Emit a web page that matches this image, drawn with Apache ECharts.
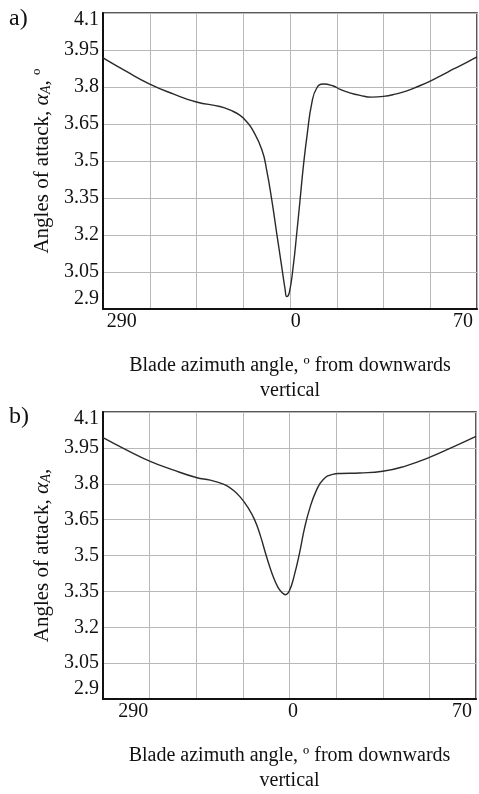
<!DOCTYPE html>
<html lang="en">
<head>
    <meta charset="utf-8">
    <script src="https://cdn.jsdelivr.net/npm/echarts@6/dist/echarts.min.js"></script>
    <style>
        html,
        body {
            margin: 0;
            width: 100%;
            height: 100%;
            background: #fff;
            overflow: hidden;
        }

        #chart {
            width: 479px;
            height: 794px;
        }
    </style>
</head>
<body>
<div id="chart"></div>
<script>
    // blade azimuth (deg, negative = before downwards vertical) and angle of attack
    var angA = [-80, -70, -60, -50, -40, -30, -25, -21.5, -19, -16, -12, -10, -7.8, -5.7, -3.6, -2.1, -1.4, -0.3,
        1.4, 2.9, 4.3, 5.7, 7.4, 9.3, 11.4, 14.2, 18.5, 21.5, 25, 30, 35, 40, 45, 50, 55, 60, 65, 70, 75, 80];
    var valA = [3.918, 3.863, 3.812, 3.772, 3.739, 3.721, 3.704, 3.686, 3.664, 3.626, 3.545, 3.464, 3.342, 3.208, 3.075, 2.980, 2.950, 2.966,
        3.075, 3.208, 3.342, 3.477, 3.612, 3.734, 3.795, 3.812, 3.804, 3.790, 3.778, 3.766, 3.759, 3.762, 3.771, 3.784, 3.803, 3.824, 3.848, 3.873, 3.897, 3.922];

    var angB = [-80, -70, -60, -50, -40, -34, -30, -27, -24, -21, -18, -15, -12.5, -10, -7.5, -5, -3, -1.7, 0,
        2, 4.3, 6.4, 8.6, 11.4, 14.3, 18.5, 22, 30, 40, 50, 60, 70, 80];
    var valB = [3.993, 3.942, 3.895, 3.858, 3.826, 3.815, 3.804, 3.792, 3.772, 3.743, 3.703, 3.650, 3.583, 3.500, 3.425, 3.368, 3.343, 3.336, 3.354,
        3.415, 3.510, 3.612, 3.694, 3.769, 3.816, 3.839, 3.843, 3.845, 3.852, 3.875, 3.910, 3.953, 3.998];

    var yTicks = [2.9, 3.05, 3.2, 3.35, 3.5, 3.65, 3.8, 3.95, 4.1];
    var xTickPosA = [-72, 2.5, 74];
    var xTickPosB = [-67, 1.5, 74];
    var xTickText = ['290', '0', '70'];

    var FONT = '"Liberation Serif", "DejaVu Serif", serif';

    function pairs(xs, ys) {
        return xs.map(function (x, i) { return [x, ys[i]]; });
    }

    function xAxisFor(idx, pos) {
        return {
            type: 'value',
            gridIndex: idx,
            min: -80,
            max: 80,
            interval: 20,
            axisLine: {onZero: false, lineStyle: {color: '#111', width: 2}},
            axisTick: {show: false},
            splitLine: {show: true, lineStyle: {color: '#b8b8b8', width: 1}},
            axisLabel: {
                customValues: pos,
                margin: 3,
                color: '#111',
                fontFamily: FONT,
                fontSize: 20,
                formatter: function (v) {
                    return xTickText[pos.indexOf(v)];
                }
            },
            name: 'Blade azimuth angle, º from downwards\nvertical',
            nameLocation: 'middle',
            nameGap: 44,
            nameTextStyle: {color: '#111', fontFamily: FONT, fontSize: 20, lineHeight: 25}
        };
    }

    function yAxisFor(idx, nameTail) {
        return {
            type: 'value',
            gridIndex: idx,
            min: 2.9,
            max: 4.1,
            axisLine: {show: true, onZero: false, lineStyle: {color: '#111', width: 2}},
            axisTick: {show: false, customValues: yTicks},
            splitLine: {show: true, lineStyle: {color: '#b8b8b8', width: 1}},
            axisLabel: {
                customValues: yTicks,
                margin: 4,
                color: '#111',
                fontFamily: FONT,
                fontSize: 20,
                formatter: function (v) {
                    var s = String(+v.toFixed(2));
                    if (v === 4.1) return '{t|' + s + '}';
                    if (v === 2.9) return '{b|' + s + '}';
                    return s;
                },
                rich: {
                    t: {padding: [14, 0, 0, 0], fontFamily: FONT, fontSize: 20, color: '#111'},
                    b: {padding: [0, 0, 20, 0], fontFamily: FONT, fontSize: 20, color: '#111'}
                }
            },
            name: '{n|Angles of attack, }{i|α}{s|A}{n|,' + nameTail + '}',
            nameLocation: 'middle',
            nameGap: 42,
            nameTextStyle: {
                rich: {
                    n: {fontFamily: FONT, fontSize: 21, color: '#111'},
                    i: {fontFamily: FONT, fontSize: 22, fontStyle: 'italic', color: '#111'},
                    s: {fontFamily: FONT, fontSize: 14, fontStyle: 'italic', color: '#111', verticalAlign: 'bottom', padding: [6, 0, 0, 0]}
                }
            }
        };
    }

    var chart = echarts.init(document.getElementById('chart'));
    chart.setOption({
        animation: false,
        grid: [
            {left: 103, top: 13, width: 374, height: 296, show: true, borderColor: '#222', borderWidth: 1.5},
            {left: 103, top: 412, width: 373, height: 293, show: true, borderColor: '#222', borderWidth: 1.5}
        ],
        graphic: [
            {type: 'text', left: 9, top: 7, style: {text: 'a)', font: '24px ' + FONT, fill: '#111'}},
            {type: 'text', left: 9, top: 405, style: {text: 'b)', font: '24px ' + FONT, fill: '#111'}}
        ],
        xAxis: [xAxisFor(0, xTickPosA), xAxisFor(1, xTickPosB)],
        yAxis: [yAxisFor(0, ' º'), yAxisFor(1, '')],
        series: [
            {
                type: 'line',
                xAxisIndex: 0,
                yAxisIndex: 0,
                data: pairs(angA, valA),
                smooth: 0.5,
                showSymbol: false,
                lineStyle: {color: '#2a2a2a', width: 1.4}
            },
            {
                type: 'line',
                xAxisIndex: 1,
                yAxisIndex: 1,
                data: pairs(angB, valB),
                smooth: 0.5,
                showSymbol: false,
                lineStyle: {color: '#2a2a2a', width: 1.4}
            }
        ]
    });
</script>
</body>
</html>
